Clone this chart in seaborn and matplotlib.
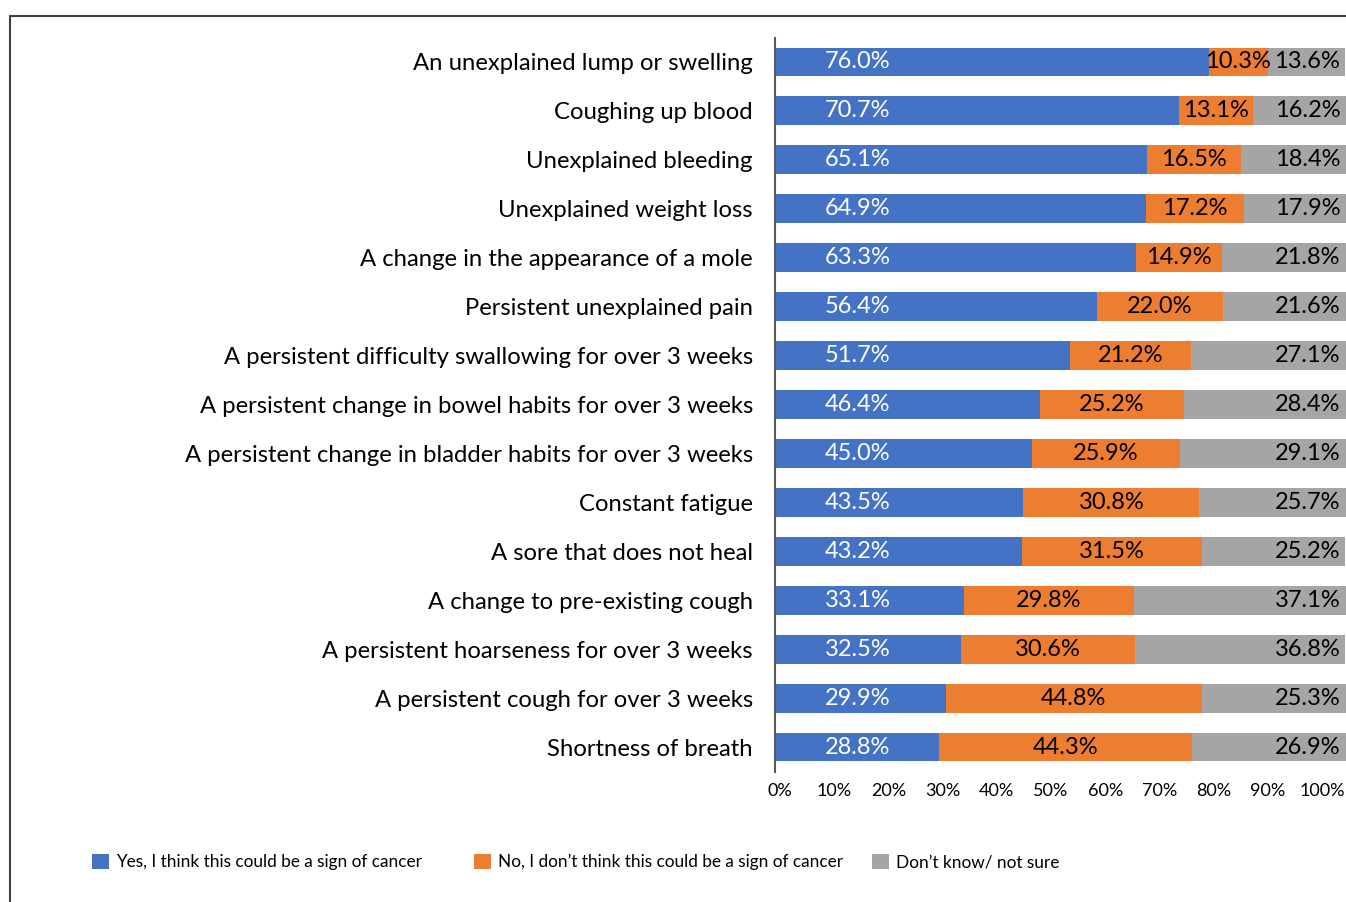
import pandas as pd
import seaborn as sns
import matplotlib.pyplot as plt
from matplotlib.lines import Line2D
from matplotlib.patches import Patch

# data
categories = [
    "An unexplained lump or swelling",
    "Coughing up blood",
    "Unexplained bleeding",
    "Unexplained weight loss",
    "A change in the appearance of a mole",
    "Persistent unexplained pain",
    "A persistent difficulty swallowing for over 3 weeks",
    "A persistent change in bowel habits for over 3 weeks",
    "A persistent change in bladder habits for over 3 weeks",
    "Constant fatigue",
    "A sore that does not heal",
    "A change to pre-existing cough",
    "A persistent hoarseness for over 3 weeks",
    "A persistent cough for over 3 weeks",
    "Shortness of breath",
]
yes_vals = [76.0, 70.7, 65.1, 64.9, 63.3, 56.4, 51.7, 46.4, 45.0, 43.5, 43.2, 33.1, 32.5, 29.9, 28.8]
no_vals = [10.3, 13.1, 16.5, 17.2, 14.9, 22.0, 21.2, 25.2, 25.9, 30.8, 31.5, 29.8, 30.6, 44.8, 44.3]
dk_vals = [13.6, 16.2, 18.4, 17.9, 21.8, 21.6, 27.1, 28.4, 29.1, 25.7, 25.2, 37.1, 36.8, 25.3, 26.9]

series_names = [
    "Yes, I think this could be a sign of cancer",
    "No, I don\u2019t think this could be a sign of cancer",
    "Don\u2019t know/ not sure",
]
colors = ["#4472C4", "#ED7D31", "#A5A5A5"]
tick_vals = [0, 10, 20, 30, 40, 50, 60, 70, 80, 90, 100]
tick_labels = [f"{v}%" for v in tick_vals]

sns.set_theme(style="white")
plt.rcParams['font.family'] = ['Lato', 'DejaVu Sans']
plt.rcParams['text.color'] = 'black'

df = pd.DataFrame({"cat": categories, "yes": yes_vals, "no": no_vals, "dk": dk_vals})
df["yes_no"] = df["yes"] + df["no"]
df["total"] = df["yes_no"] + df["dk"]

W, H = 1346, 902
fig = plt.figure(figsize=(W / 100, H / 100), dpi=100)
ax = fig.add_axes([775 / W, 1 - 771.5 / H, 571 / W, 734 / H])

# stacked bars: draw cumulative totals back to front
for col, c in [("total", colors[2]), ("yes_no", colors[1]), ("yes", colors[0])]:
    sns.barplot(data=df, x=col, y="cat", color=c, width=0.59, saturation=1,
                orient="h", edgecolor="none", ax=ax)

ax.set_xlim(0, 100)
ax.set_ylim(len(categories) - 0.5, -0.5)
ax.set_xlabel("")
ax.set_ylabel("")

# value labels
for i, row in df.iterrows():
    ax.text(14.5, i, f"{row['yes']:.1f}%", color="white", ha="center", va="center", fontsize=17)
    ax.text(row["yes"] + row["no"] / 2, i, f"{row['no']:.1f}%", color="black",
            ha="center", va="center", fontsize=17)
    ax.text(99.0, i, f"{row['dk']:.1f}%", color="black", ha="right", va="center", fontsize=17)

# x tick labels: the reference squeezes them a little towards the left
ax.set_xticks(tick_vals)
ax.set_xticklabels([])
ax.tick_params(axis="x", length=0)
for k, (v, lab) in enumerate(zip(tick_vals, tick_labels)):
    dx = (5 - 2.9 * k) * 0.72
    ax.annotate(lab, xy=(v, 0), xycoords=("data", "axes fraction"),
                xytext=(dx, -8), textcoords="offset points",
                ha="center", va="top", fontsize=13, color="black")
ax.tick_params(axis="y", length=0, pad=16, labelsize=17.2, labelcolor="black")

for s in ["top", "right", "bottom"]:
    ax.spines[s].set_visible(False)
ax.spines["left"].set_color("#595959")
ax.spines["left"].set_linewidth(1.5)

# legend entries placed one by one, like the reference
legend_x = [92, 474, 872]
for name, c, lx in zip(series_names, colors, legend_x):
    fig.legend(handles=[Patch(facecolor=c, edgecolor="none")], labels=[name],
               loc="center left", bbox_to_anchor=(lx / W, 1 - 862 / H), frameon=False,
               fontsize=12.4, handlelength=1.0, handleheight=1.0, handletextpad=0.4,
               borderaxespad=0, borderpad=0)

# outer frame (cropped on the right and bottom)
fig.add_artist(Line2D([10 / W, 1], [1 - 16 / H] * 2, transform=fig.transFigure,
                      color="#404040", lw=1.5))
fig.add_artist(Line2D([10 / W] * 2, [1 - 16 / H, 0], transform=fig.transFigure,
                      color="#404040", lw=1.5))

fig.savefig("out.png", dpi=100)
